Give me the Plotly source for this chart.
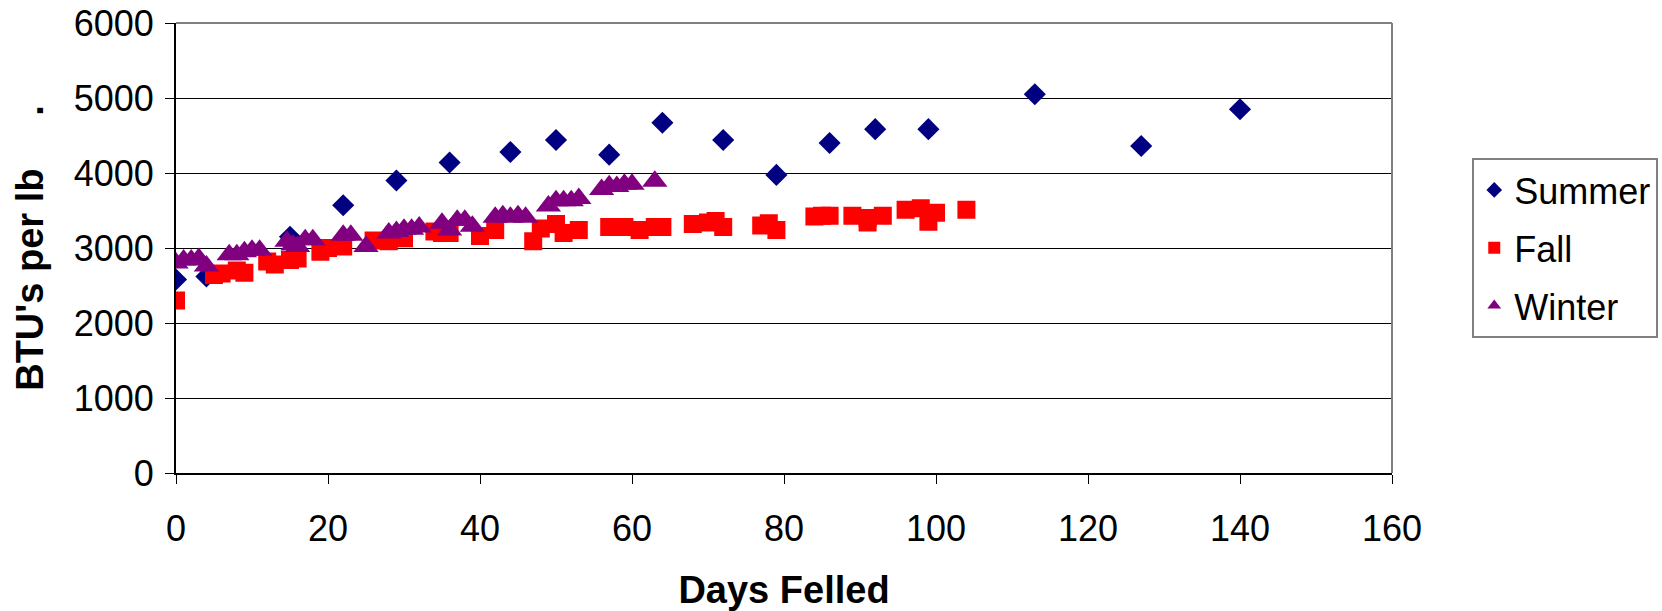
import plotly.graph_objects as go

summer_x = [0, 4, 15, 22, 29, 36, 44, 50, 57, 64, 72, 79, 86, 92, 99, 113, 127, 140]
summer_y = [2580, 2620, 3150, 3570, 3900, 4140, 4280, 4440, 4245, 4670, 4440, 3975, 4400, 4585, 4585, 5050, 4360, 4850]

fall_x = [0, 5, 6, 8, 9, 12, 13, 15, 16, 19, 20, 22, 26, 28, 30, 34, 35, 36, 40, 42,
          47, 48, 50, 51, 53, 57, 59, 61, 63, 64, 68, 70, 71, 72, 77, 78, 79, 84, 85, 86,
          89, 91, 91, 93, 96, 98, 99, 100, 104]
fall_y = [2300, 2640, 2660, 2700, 2670, 2820, 2780, 2840, 2860, 2950, 3000, 3020, 3100, 3090, 3130, 3220, 3200, 3200, 3160, 3240,
          3090, 3260, 3320, 3200, 3240, 3280, 3280, 3240, 3280, 3280, 3320, 3340, 3360, 3280, 3300, 3330, 3240, 3420, 3430, 3430,
          3430, 3400, 3340, 3430, 3510, 3530, 3350, 3470, 3510]

winter_x = [0, 1, 2, 3, 4, 7, 8, 9, 10, 11, 14.6, 15.4, 16, 17, 18, 22, 23, 25, 28, 29,
            30, 31, 32, 35, 36, 37, 38, 39, 42, 43, 44, 45, 46, 49, 50, 51, 52, 53, 56, 57,
            58, 59, 60, 63]
winter_y = [2800, 2840, 2840, 2860, 2760, 2910, 2910, 2950, 2970, 2970, 3090, 3040, 3020, 3110, 3110, 3170, 3170, 3020, 3200, 3220,
            3250, 3250, 3280, 3330, 3240, 3370, 3370, 3290, 3410, 3430, 3410, 3430, 3410, 3560, 3630, 3630, 3630, 3660, 3780, 3830,
            3820, 3850, 3850, 3890]

x_ticks = [0, 20, 40, 60, 80, 100, 120, 140, 160]
y_ticks = [0, 1000, 2000, 3000, 4000, 5000, 6000]

FONT = "Liberation Sans, Arial, sans-serif"

fig = go.Figure()
fig.add_trace(go.Scatter(x=summer_x, y=summer_y, mode="markers", name="Summer", legendgroup="s",
                         marker=dict(symbol="diamond", size=17, color="#000080", line=dict(width=0))))
fig.add_trace(go.Scatter(x=fall_x, y=fall_y, mode="markers", name="Fall", legendgroup="f",
                         marker=dict(symbol="square", size=18, color="#FF0000", line=dict(width=0))))
fig.add_trace(go.Scatter(x=winter_x, y=winter_y, mode="markers", name="Winter", legendgroup="w",
                         marker=dict(symbol="triangle-up", size=22, color="#800080", line=dict(width=0))))

fig.update_layout(
    width=1662, height=611,
    margin=dict(l=176, r=270, t=23, b=138, autoexpand=False),
    paper_bgcolor="white", plot_bgcolor="white",
    font=dict(family=FONT, size=36, color="black"),
    showlegend=True,
    legend=dict(x=1.066, y=0.5, xanchor="left", yanchor="middle",
                bordercolor="#808080", borderwidth=2, bgcolor="white",
                font=dict(size=36), tracegroupgap=8, itemsizing="constant"),
    xaxis=dict(range=[0, 160], tickvals=x_ticks, ticktext=[str(v) for v in x_ticks],
               showgrid=False, zeroline=False, showline=True, linecolor="black", linewidth=2,
               ticks="outside", ticklen=9, tickcolor="black", ticklabelstandoff=14,
               tickfont=dict(size=36), automargin=False,
               title=dict(text="<b>Days Felled</b>", font=dict(size=38), standoff=28)),
    yaxis=dict(range=[0, 6000], tickvals=y_ticks, ticktext=[str(v) for v in y_ticks],
               showgrid=True, gridcolor="black", gridwidth=1, zeroline=False,
               showline=True, linecolor="black", linewidth=2,
               ticks="outside", ticklen=9, tickcolor="black", ticklabelstandoff=4,
               tickfont=dict(size=36), automargin=False,
               title=dict(text="<b>BTU's per lb     .</b>", font=dict(size=38), standoff=18)),
)

# plot-area border on top and right (gray)
fig.add_shape(type="line", xref="paper", yref="paper", x0=0, x1=1, y0=1, y1=1,
              line=dict(color="#808080", width=2))
fig.add_shape(type="line", xref="paper", yref="paper", x0=1, x1=1, y0=0, y1=1,
              line=dict(color="#808080", width=2))

fig.write_html("out.html")
